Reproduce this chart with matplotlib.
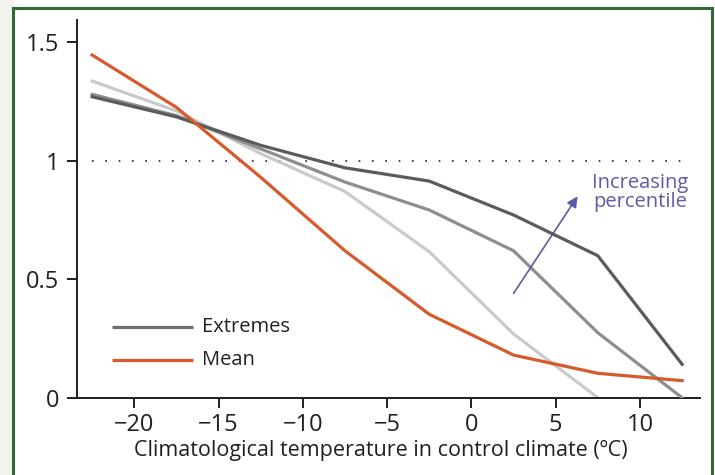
import numpy as np
import matplotlib
matplotlib.use("Agg")
import matplotlib.pyplot as plt
from matplotlib.patches import Rectangle, Polygon

plt.rcParams['font.family'] = ['Open Sans', 'DejaVu Sans']

# =================================================
# Data
# =================================================
temps = [-22.5, -17.5, -12.5, -7.5, -2.5, 2.5, 7.5, 12.5]

mean_ratio = [1.446, 1.225, 0.93, 0.62, 0.352, 0.18, 0.103, 0.072]
pct_low = [1.336, 1.21, 1.03, 0.87, 0.616, 0.269, 0.0, None]
pct_mid = [1.28, 1.19, 1.05, 0.91, 0.792, 0.62, 0.274, 0.0]
pct_high = [1.27, 1.185, 1.065, 0.97, 0.914, 0.771, 0.599, 0.141]

xticks = [-20, -15, -10, -5, 0, 5, 10]
yticks = [0, 0.5, 1, 1.5]
yticklabels = ["0", "0.5", "1", "1.5"]

c_dark = "#5a5b5d"
c_mid = "#8d8e90"
c_light = "#c9cacb"
c_mean = "#d65a2b"
c_arrow = "#5d5aa8"
c_axis = "#231f20"

# =================================================
# Figure
# =================================================
fig = plt.figure(figsize=(7.15, 4.75), dpi=100)

# faint background shape + green frame
fig.patches.append(Polygon([[0, 1], [0.02, 1], [0.02, 0.0], [0, 0.0]],
                           closed=True, transform=fig.transFigure,
                           facecolor="#f3f3ee", edgecolor="none", zorder=-2))
fig.patches.append(Rectangle((0.018, -0.02), 0.978, 1.003,
                             transform=fig.transFigure, facecolor="white",
                             edgecolor="#2f6b32", linewidth=2.2, zorder=-1))

ax = fig.add_axes([0.1077, 0.1627, 0.8713, 0.7953])
ax.set_facecolor("none")

# reference line at 1
ax.plot([temps[0], temps[-1]], [1, 1], color="#231f20",
        linestyle=(0, (1, 7)), linewidth=1.2, zorder=1)

lw = 2.3
ax.plot(temps[:7], pct_low[:7], color=c_light, linewidth=lw, zorder=2)
ax.plot(temps, pct_mid, color=c_mid, linewidth=lw, zorder=3)
ax.plot(temps, pct_high, color=c_dark, linewidth=lw, zorder=4)
ax.plot(temps, mean_ratio, color=c_mean, linewidth=lw, zorder=5)

# legend drawn by hand
ax.plot([-21.3, -16.5], [0.3, 0.3], color="#6d6e70", linewidth=lw,
        solid_capstyle="butt")
ax.plot([-21.3, -16.5], [0.16, 0.16], color=c_mean, linewidth=lw,
        solid_capstyle="butt")
ax.text(-16.0, 0.3, "Extremes", fontsize=14.5, color=c_axis, va="center")
ax.text(-16.0, 0.16, "Mean", fontsize=14.5, color=c_axis, va="center")

# arrow + annotation
ax.annotate("", xy=(6.3, 0.85), xytext=(2.5, 0.44),
            arrowprops=dict(arrowstyle="-|>", color=c_arrow, lw=1.2,
                            mutation_scale=16, shrinkA=0, shrinkB=0))
ax.text(10.0, 0.865, "Increasing\npercentile", fontsize=14.5, color=c_arrow,
        ha="center", va="center", linespacing=0.9)

ax.set_xlim(-23.4, 13.56)
ax.set_ylim(0, 1.594)
ax.set_xticks(xticks)
ax.set_yticks(yticks)
ax.set_yticklabels(yticklabels)

for s in ["top", "right"]:
    ax.spines[s].set_visible(False)
for s in ["left", "bottom"]:
    ax.spines[s].set_linewidth(1.4)
    ax.spines[s].set_color(c_axis)

ax.tick_params(axis="both", length=7, width=1.4, color=c_axis,
               labelsize=17, labelcolor=c_axis)
ax.tick_params(axis="y", pad=6)
ax.tick_params(axis="x", pad=4)

ax.set_xlabel("Climatological temperature in control climate (ºC)",
              fontsize=15.5, color=c_axis)
ax.xaxis.set_label_coords(0.487, -0.112)

fig.savefig("out.png", dpi=100)
